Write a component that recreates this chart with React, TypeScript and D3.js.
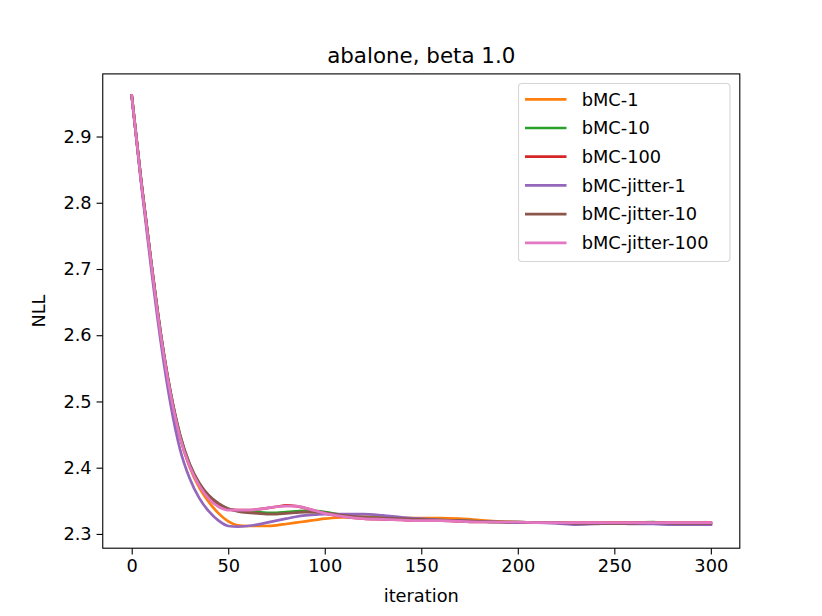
import { useEffect, useRef } from 'react';
import * as d3 from 'd3';

const iterations = [0, 5, 10, 15, 20, 25, 30, 35, 40, 45, 50, 55, 60, 65, 70, 75, 80, 85, 90, 95, 100,
  110, 120, 130, 140, 150, 160, 170, 180, 190, 200, 210, 220, 230, 240, 250, 260, 270, 280, 290, 300];

const bmc1 = [2.962, 2.830, 2.711, 2.601, 2.513, 2.446, 2.401, 2.370, 2.348, 2.331, 2.319, 2.313, 2.312, 2.312, 2.312, 2.313, 2.315, 2.317, 2.319, 2.321, 2.323,
  2.325, 2.326, 2.325, 2.324, 2.324, 2.324, 2.323, 2.321, 2.319, 2.318, 2.317, 2.317, 2.316, 2.316, 2.317, 2.316, 2.316, 2.316, 2.316, 2.316];
const bmc10 = [2.962, 2.831, 2.713, 2.604, 2.516, 2.450, 2.405, 2.376, 2.357, 2.345, 2.338, 2.335, 2.334, 2.333, 2.332, 2.332, 2.333, 2.334, 2.335, 2.335, 2.333,
  2.328, 2.325, 2.324, 2.323, 2.322, 2.321, 2.320, 2.319, 2.318, 2.318, 2.317, 2.317, 2.316, 2.316, 2.316, 2.317, 2.318, 2.316, 2.316, 2.315];
const bmc100 = [2.962, 2.830, 2.712, 2.602, 2.514, 2.447, 2.403, 2.374, 2.354, 2.342, 2.337, 2.336, 2.336, 2.337, 2.339, 2.341, 2.343, 2.342, 2.339, 2.335, 2.331,
  2.326, 2.323, 2.322, 2.321, 2.320, 2.320, 2.319, 2.318, 2.318, 2.317, 2.317, 2.317, 2.317, 2.317, 2.317, 2.317, 2.317, 2.317, 2.317, 2.317];
const jitter1 = [2.962, 2.826, 2.703, 2.591, 2.498, 2.428, 2.384, 2.354, 2.334, 2.320, 2.312, 2.311, 2.312, 2.314, 2.317, 2.320, 2.323, 2.326, 2.328, 2.329, 2.330,
  2.330, 2.330, 2.328, 2.325, 2.323, 2.321, 2.320, 2.319, 2.318, 2.317, 2.317, 2.316, 2.314, 2.315, 2.316, 2.315, 2.315, 2.314, 2.314, 2.314];
const jitter10 = [2.962, 2.831, 2.713, 2.604, 2.516, 2.450, 2.406, 2.377, 2.358, 2.346, 2.338, 2.334, 2.332, 2.331, 2.330, 2.330, 2.331, 2.332, 2.333, 2.333, 2.332,
  2.328, 2.325, 2.324, 2.323, 2.322, 2.321, 2.320, 2.319, 2.318, 2.318, 2.317, 2.317, 2.316, 2.316, 2.316, 2.316, 2.317, 2.316, 2.316, 2.316];
const jitter100 = [2.962, 2.829, 2.711, 2.601, 2.513, 2.446, 2.402, 2.373, 2.353, 2.341, 2.336, 2.336, 2.336, 2.337, 2.339, 2.341, 2.342, 2.342, 2.339, 2.335, 2.331,
  2.326, 2.323, 2.322, 2.321, 2.320, 2.320, 2.319, 2.318, 2.318, 2.318, 2.317, 2.317, 2.317, 2.317, 2.317, 2.317, 2.317, 2.317, 2.317, 2.317];

const seriesNames = ['bMC-1', 'bMC-10', 'bMC-100', 'bMC-jitter-1', 'bMC-jitter-10', 'bMC-jitter-100'];
const seriesValues = [bmc1, bmc10, bmc100, jitter1, jitter10, jitter100];
const seriesColors = ['#ff7f0e', '#2ca02c', '#d62728', '#9467bd', '#8c564b', '#e377c2'];

const xTicks = [0, 50, 100, 150, 200, 250, 300];
const yTicks = [2.3, 2.4, 2.5, 2.6, 2.7, 2.8, 2.9];

export default function App() {
  const svgRef = useRef<SVGSVGElement>(null);
  const width = 822;
  const height = 616;

  useEffect(() => {
    if (!svgRef.current) return;
    const svg = d3.select(svgRef.current);
    svg.selectAll('*').remove();

    const margin = { top: 73.9, right: 82.2, bottom: 67.8, left: 102.75 };
    const font = 'DejaVu Sans, sans-serif';

    // matplotlib-style 5% margins
    const xMin = d3.min(iterations) as number;
    const xMax = d3.max(iterations) as number;
    const allVals = seriesValues.flat();
    const yMin = d3.min(allVals) as number;
    const yMax = d3.max(allVals) as number;
    const xPad = (xMax - xMin) * 0.05;
    const yPad = (yMax - yMin) * 0.05;

    const x = d3.scaleLinear()
      .domain([xMin - xPad, xMax + xPad])
      .range([margin.left, width - margin.right]);
    const y = d3.scaleLinear()
      .domain([yMin - yPad, yMax + yPad])
      .range([height - margin.bottom, margin.top]);

    svg.append('rect')
      .attr('width', width)
      .attr('height', height)
      .attr('fill', '#fff');

    // lines
    const line = d3.line<number>()
      .x((_, i) => x(iterations[i]))
      .y(d => y(d))
      .curve(d3.curveMonotoneX);

    seriesValues.forEach((vals, i) => {
      svg.append('path')
        .attr('d', line(vals))
        .attr('fill', 'none')
        .attr('stroke', seriesColors[i])
        .attr('stroke-width', 2.7)
        .attr('stroke-linejoin', 'round')
        .attr('stroke-linecap', 'square');
    });

    // axes
    const xAxis = svg.append('g')
      .attr('transform', `translate(0, ${height - margin.bottom})`)
      .call(d3.axisBottom(x).tickValues(xTicks).tickSize(6.2).tickPadding(4.9).tickFormat(d3.format('d')));
    const yAxis = svg.append('g')
      .attr('transform', `translate(${margin.left}, 0)`)
      .call(d3.axisLeft(y).tickValues(yTicks).tickSize(6.2).tickPadding(4.9).tickFormat(d3.format('.1f')));

    [xAxis, yAxis].forEach(ax => {
      ax.select('.domain').remove();
      ax.selectAll('line').attr('stroke', '#000').attr('stroke-width', 1.1);
      ax.selectAll('text')
        .attr('font-family', font)
        .attr('font-size', '17.8px')
        .attr('fill', '#000');
    });

    // frame
    svg.append('rect')
      .attr('x', margin.left)
      .attr('y', margin.top)
      .attr('width', width - margin.left - margin.right)
      .attr('height', height - margin.top - margin.bottom)
      .attr('fill', 'none')
      .attr('stroke', '#000')
      .attr('stroke-width', 1.1);

    // labels
    svg.append('text')
      .attr('x', (margin.left + width - margin.right) / 2)
      .attr('y', 602)
      .attr('text-anchor', 'middle')
      .attr('font-family', font)
      .attr('font-size', '17.8px')
      .text('iteration');

    svg.append('text')
      .attr('transform', `translate(45, ${(margin.top + height - margin.bottom) / 2}) rotate(-90)`)
      .attr('text-anchor', 'middle')
      .attr('font-family', font)
      .attr('font-size', '17.8px')
      .text('NLL');

    svg.append('text')
      .attr('x', (margin.left + width - margin.right) / 2)
      .attr('y', 62.7)
      .attr('text-anchor', 'middle')
      .attr('font-family', font)
      .attr('font-size', '21.4px')
      .text('abalone, beta 1.0');

    // legend
    const legend = svg.append('g');
    legend.append('rect')
      .attr('x', 518.5)
      .attr('y', 83.5)
      .attr('width', 211.5)
      .attr('height', 178)
      .attr('rx', 3.5)
      .attr('fill', '#fff')
      .attr('fill-opacity', 0.8)
      .attr('stroke', '#d5d5d5')
      .attr('stroke-width', 1.1);

    seriesNames.forEach((name, i) => {
      const cy = 99.3 + i * 28.7;
      legend.append('line')
        .attr('x1', 525)
        .attr('x2', 566.5)
        .attr('y1', cy)
        .attr('y2', cy)
        .attr('stroke', seriesColors[i])
        .attr('stroke-width', 2.7);
      legend.append('text')
        .attr('x', 581.7)
        .attr('y', cy)
        .attr('dy', '0.35em')
        .attr('font-family', font)
        .attr('font-size', '17.8px')
        .text(name);
    });
  }, []);

  return (
    <svg
      ref={svgRef}
      width={width}
      height={height}
      style={{ position: 'absolute', left: 0, top: 0, display: 'block' }}
    />
  );
}
